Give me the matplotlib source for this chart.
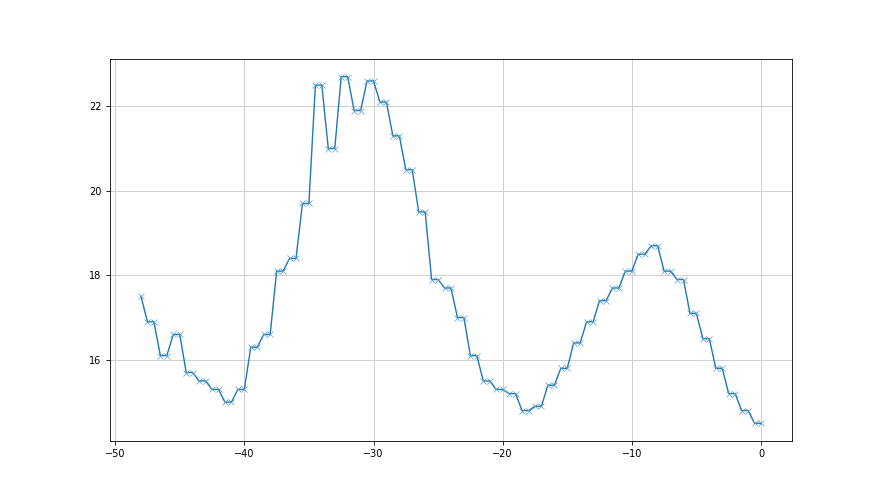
import numpy as np
import matplotlib
matplotlib.use("Agg")
import matplotlib.pyplot as plt

# --- data ---
first_value = 17.5  # value at x = -48
# each level holds for two consecutive half-steps (-47.5/-47, -46.5/-46, ... -0.5/0)
levels = [16.9, 16.1, 16.6, 15.7, 15.5, 15.3, 15.0, 15.3, 16.3, 16.6,
          18.1, 18.4, 19.7, 22.5, 21.0, 22.7, 21.9, 22.6, 22.1, 21.3,
          20.5, 19.5, 17.9, 17.7, 17.0, 16.1, 15.5, 15.3, 15.2, 14.8,
          14.9, 15.4, 15.8, 16.4, 16.9, 17.4, 17.7, 18.1, 18.5, 18.7,
          18.1, 17.9, 17.1, 16.5, 15.8, 15.2, 14.8, 14.5]

x = np.arange(-48, 0.5, 0.5)
y = np.concatenate([[first_value], np.repeat(levels, 2)])

plt.rcParams['font.size'] = 7
plt.rcParams['xtick.major.size'] = 2.6
plt.rcParams['ytick.major.size'] = 2.6
plt.rcParams['xtick.major.width'] = 0.6
plt.rcParams['ytick.major.width'] = 0.6
plt.rcParams['axes.linewidth'] = 0.6

fig, ax = plt.subplots(figsize=(8.8, 4.95), dpi=100)
ax.plot(x, y, marker='x', color='#1f77b4', linewidth=1.0,
        markersize=4, markeredgewidth=0.5, markeredgecolor='#5a9fd0')
ax.grid(True, color='#c8c8c8', linewidth=0.6)
ax.set_axisbelow(True)

fig.savefig("out.png", dpi=100)
